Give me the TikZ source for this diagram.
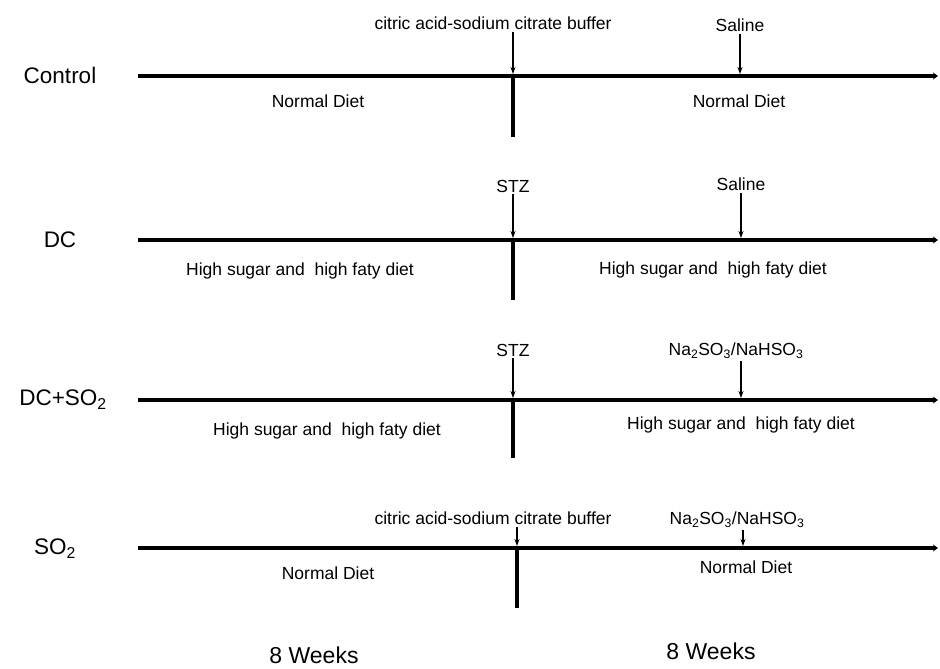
\documentclass[tikz,border=0pt]{standalone}
\usepackage{fontspec}
\setmainfont{Liberation Sans}
\usetikzlibrary{arrows.meta}

\begin{document}
\begin{tikzpicture}[x=1pt,y=-1pt,
  lbl/.style={font=\fontsize{17.5}{20}\selectfont,inner sep=2pt},
  grp/.style={font=\fontsize{22.5}{26}\selectfont},
  wk/.style={font=\fontsize{23}{26}\selectfont},
  timeline/.style={line width=4pt,-{Stealth[length=5pt,width=7pt]}},
  cut/.style={line width=4pt},
  dose/.style={line width=1.3pt,-{Stealth[length=7pt,width=5pt]},shorten >=2pt}]
\useasboundingbox[fill=white] (0,0) rectangle (940,669);
% Control
\node[grp] (gA) at (60,75) {Control};
\coordinate (aS) at (138,76);
\coordinate (aE) at (938,76);
\coordinate (aT) at (513,76);
\coordinate (aB) at (513,137);
\draw[timeline] (aS) -- (aE);
\draw[cut] (aT) -- (aB);
\node[lbl] (aBuf) at (493,23) {citric acid-sodium citrate buffer};
\node[lbl] (aSal) at (740,25) {Saline};
\draw[dose] (aBuf.south -| aT) -- (aT);
\draw[dose] (aSal.south) -- (aSal.south |- aT);
\node[lbl] (aD1) at (318,101) {Normal Diet};
\node[lbl] (aD2) at (739,101) {Normal Diet};
% DC
\node[grp] (gB) at (60,240) {DC};
\coordinate (bS) at (138,240);
\coordinate (bE) at (938,240);
\coordinate (bT) at (513,240);
\coordinate (bB) at (513,300);
\draw[timeline] (bS) -- (bE);
\draw[cut] (bT) -- (bB);
\node[lbl] (bStz) at (513,186) {STZ};
\node[lbl] (bSal) at (741,184) {Saline};
\draw[dose] (bStz.south) -- (bT);
\draw[dose] (bSal.south) -- (bSal.south |- bT);
\node[lbl] (bD1) at (300,271) {High sugar and\ \ high faty diet};
\node[lbl] (bD2) at (713,270) {High sugar and\ \ high faty diet};
% DC+SO2
\node[grp] (gC) at (63,400) {DC+SO\textsubscript{2}};
\coordinate (cS) at (138,400);
\coordinate (cE) at (938,400);
\coordinate (cT) at (513,400);
\coordinate (cB) at (513,458);
\draw[timeline] (cS) -- (cE);
\draw[cut] (cT) -- (cB);
\node[lbl] (cStz) at (513,350) {STZ};
\node[lbl] (cNa) at (736,351) {Na\textsubscript{2}SO\textsubscript{3}/NaHSO\textsubscript{3}};
\draw[dose] (cNa.south -| 741,0) coordinate (cN) -- (cN |- cT);
\draw[dose] (cStz.south) -- (cT);
\node[lbl] (cD1) at (327,431) {High sugar and\ \ high faty diet};
\node[lbl] (cD2) at (741,425) {High sugar and\ \ high faty diet};
% SO2
\node[grp] (gD) at (55,549) {SO\textsubscript{2}};
\coordinate (dS) at (138,548);
\coordinate (dE) at (938,548);
\coordinate (dT) at (517,548);
\coordinate (dB) at (517,608);
\draw[timeline] (dS) -- (dE);
\draw[cut] (dT) -- (dB);
\node[lbl] (dBuf) at (493,518) {citric acid-sodium citrate buffer};
\node[lbl] (dNa) at (737,520) {Na\textsubscript{2}SO\textsubscript{3}/NaHSO\textsubscript{3}};
\draw[dose] (dBuf.south -| dT) -- (dT);
\draw[dose] (dNa.south -| 743,0) coordinate (dN) -- (dN |- dT);
\node[lbl] (dD1) at (328,573) {Normal Diet};
\node[lbl] (dD2) at (746,567) {Normal Diet};
% weeks
\node[wk] (w1) at (314,655) {8 Weeks};
\node[wk] (w2) at (711,651) {8 Weeks};
\end{tikzpicture}
\end{document}
